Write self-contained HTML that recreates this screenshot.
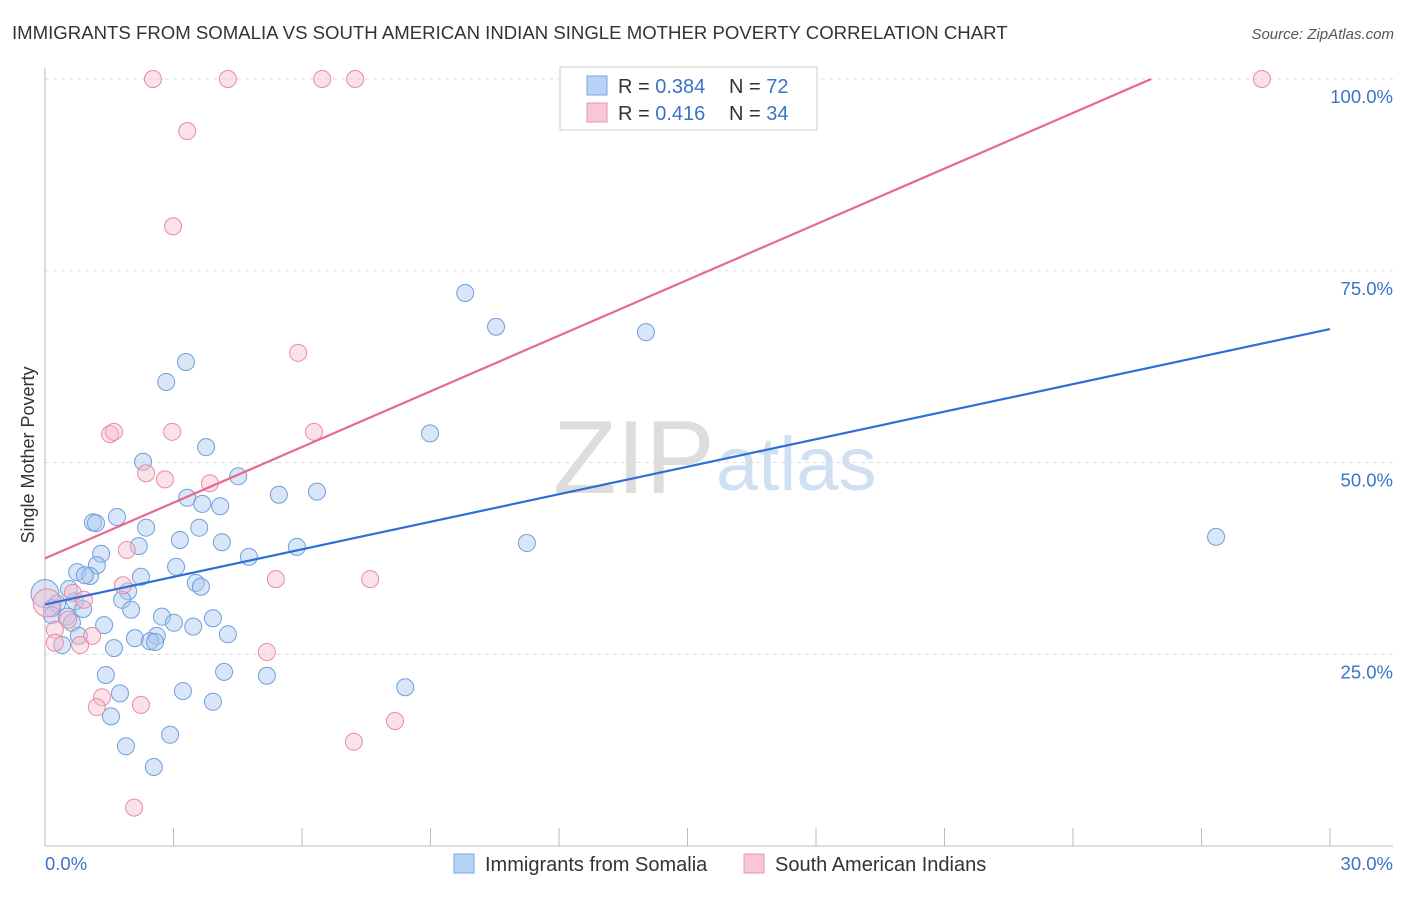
<!DOCTYPE html>
<html><head><meta charset="utf-8">
<style>
body{margin:0;background:#fff;font-family:"Liberation Sans",sans-serif;}
svg text{font-family:"Liberation Sans",sans-serif;}
</style></head>
<body>
<svg id="chart" width="1406" height="892" viewBox="0 0 1406 892" xmlns="http://www.w3.org/2000/svg">
<text x="12" y="39" font-size="18.6" fill="#333">IMMIGRANTS FROM SOMALIA VS SOUTH AMERICAN INDIAN SINGLE MOTHER POVERTY CORRELATION CHART</text>
<text x="1394" y="39" font-size="15" fill="#555" font-style="italic" text-anchor="end">Source: ZipAtlas.com</text>
<text x="553" y="493" font-size="104" fill="#ddd" font-family="Liberation Serif">ZIP</text>
<text x="716" y="490" font-size="76" fill="#cfe0f3">atlas</text>
<text transform="translate(34,455) rotate(-90)" font-size="18" fill="#333" text-anchor="middle">Single Mother Poverty</text>
<g id="grid"></g><g id="axes"></g><g id="marks"></g>
<g>
<rect x="560" y="67" width="257" height="63" fill="#fff" stroke="#ccc"/>
<rect x="587" y="76" width="20" height="19" fill="#b8d3f5" stroke="#7aa7e0"/>
<rect x="587" y="103" width="20" height="19" fill="#f9c6d6" stroke="#eb94b0"/>
<text x="618" y="93" font-size="20" fill="#333">R = <tspan fill="#3b73c9">0.384</tspan></text>
<text x="729" y="93" font-size="20" fill="#333">N = <tspan fill="#3b73c9">72</tspan></text>
<text x="618" y="120" font-size="20" fill="#333">R = <tspan fill="#3b73c9"> 0.416</tspan></text>
<text x="729" y="120" font-size="20" fill="#333">N = <tspan fill="#3b73c9">34</tspan></text>
</g>
<g>
<rect x="454" y="854" width="20" height="19" fill="#b8d3f5" stroke="#7aa7e0"/>
<text x="485" y="871" font-size="20" fill="#333">Immigrants from Somalia</text>
<rect x="744" y="854" width="20" height="19" fill="#f9c6d6" stroke="#eb94b0"/>
<text x="775" y="871" font-size="20" fill="#333">South American Indians</text>
</g>
</svg>
<script>
const blueX=[9.81,10.53,14.03,27.34,3.29,2.83,8.99,3.76,2.29,4.51,3.32,5.46,6.35,3.67,4.09,1.12,1.19,1.68,2.36,3.60,3.15,2.19,4.13,5.88,11.25,1.31,4.76,3.06,1.21,0.75,1.05,0.93,2.24,3.52,3.64,0.56,1.94,0,1.80,0.70,0.28,0.16,0.89,2.01,0.16,0.51,2.73,3.92,0.63,1.38,3.01,3.46,4.27,2.10,2.61,0.79,2.45,2.57,0.40,1.61,1.42,4.18,5.18,8.41,3.22,1.75,3.92,1.54,2.92,1.89,2.54];
const blueY=[72.1,67.7,67.0,40.3,63.1,60.5,53.8,52.0,50.1,48.2,45.4,45.8,46.2,44.6,44.3,42.2,42.1,42.9,41.5,41.5,39.9,39.1,39.6,39.0,39.5,38.1,37.7,36.4,36.6,35.7,35.2,35.3,35.1,34.3,33.8,33.5,33.2,32.9,32.1,31.9,31.6,31.0,30.9,30.8,30.1,29.9,29.9,29.7,29.1,28.8,29.1,28.6,27.6,27.1,27.4,27.4,26.7,26.6,26.2,25.8,22.3,22.7,22.2,20.7,20.2,19.9,18.8,16.9,14.5,13.0,10.3];
const pinkX=[2.52,4.27,6.47,7.24,28.41,3.32,2.99,5.91,1.52,1.61,2.97,6.28,2.36,2.80,3.85,1.91,5.39,7.59,1.82,0.65,0.91,0.05,0.54,0.23,1.10,0.23,0.82,5.18,1.33,1.21,2.24,8.17,7.21,2.08];
const pinkY=[100,100,100,100,100,93.2,80.8,64.3,53.7,54.0,54.0,54.0,48.6,47.8,47.3,38.6,34.8,34.8,34.0,33.0,32.1,31.7,29.5,28.2,27.4,26.5,26.2,25.3,19.4,18.1,18.4,16.3,13.6,5.0];
const blueTrend=[31.5,67.4];
const pinkTrend=[37.5,110.1];
const yTicks=[25,50,75,100];
const xTickLabels=["0.0%","30.0%"];
const NS="http://www.w3.org/2000/svg";
const sx=v=>45+v*(1330-45)/30;
const sy=v=>846-v*(846-79)/100;
function mk(t,a,p){const e=document.createElementNS(NS,t);for(const k in a)e.setAttribute(k,a[k]);p.appendChild(e);return e;}
const grid=document.getElementById('grid'),axes=document.getElementById('axes'),marks=document.getElementById('marks');
yTicks.forEach(t=>{
 const l=mk('line',{x1:45,x2:1393,y1:sy(t),y2:sy(t),stroke:'#ddd','stroke-dasharray':'4,4'},grid);
 
 
 const tx=mk('text',{x:1393,y:sy(t)+24,'font-size':18.5,fill:'#3b73c9','text-anchor':'end'},axes);
 tx.textContent=t.toFixed(1)+'%';
 
 
});
const ya=mk('line',{x1:45,x2:45,y1:68,y2:846,stroke:'#bbb'},axes);


const xa=mk('line',{x1:45,x2:1393,y1:846,y2:846,stroke:'#bbb'},axes);


for(let i=0;i<=10;i++){
 const tk=mk('line',{x1:sx(i*3),x2:sx(i*3),y1:828,y2:846,stroke:'#bbb'},axes);
 
 
}
const xl0=mk('text',{x:45,y:870,'font-size':18.5,fill:'#3b73c9'},axes);xl0.textContent=xTickLabels[0];


const xl1=mk('text',{x:1393,y:870,'font-size':18.5,fill:'#3b73c9','text-anchor':'end'},axes);xl1.textContent=xTickLabels[1];


function dots(X,Y,fill,stroke,name){X.forEach((x,i)=>{
 const r=(x<0.1)?14:8.5;
 const c=mk('circle',{cx:sx(x),cy:sy(Y[i]),r:r,fill:fill,stroke:stroke,'stroke-width':1,'fill-opacity':0.45},marks);
 
 
});}
dots(blueX,blueY,'#a9c8f0','#6f9fdc','somalia-point');
dots(pinkX,pinkY,'#f7bccd','#e98aa8','sai-point');
const bl=mk('line',{x1:sx(0),y1:sy(blueTrend[0]),x2:sx(30),y2:sy(blueTrend[1]),stroke:'#2c6fd6','stroke-width':2.2},marks);


const slope=(pinkTrend[1]-pinkTrend[0])/30, xEnd=(100-pinkTrend[0])/slope;
const pl=mk('line',{x1:sx(0),y1:sy(pinkTrend[0]),x2:sx(xEnd),y2:sy(100),stroke:'#e8688f','stroke-width':2.2},marks);


</script>
</body></html>
